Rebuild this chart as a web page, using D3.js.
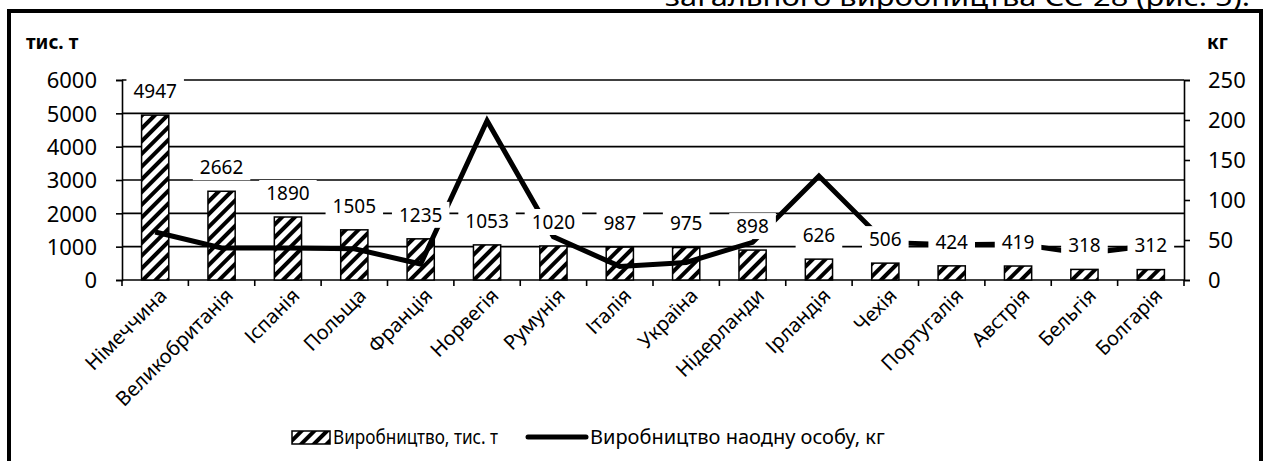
<!DOCTYPE html>
<html>
<head>
<meta charset="utf-8">
<script src="https://cdn.jsdelivr.net/npm/d3@7"></script>
<style>
  body { margin: 0; background: #fff; }
  text { font-family: "Noto Sans", "DejaVu Sans", sans-serif; fill: #000; }
</style>
</head>
<body>
<svg id="chart" width="1266" height="461"></svg>
<script>
var countries = ["Німеччина", "Великобританія", "Іспанія", "Польща", "Франція", "Норвегія",
                 "Румунія", "Італія", "Україна", "Нідерланди", "Ірландія", "Чехія",
                 "Португалія", "Австрія", "Бельгія", "Болгарія"];
var production = [4947, 2662, 1890, 1505, 1235, 1053, 1020, 987, 975, 898, 626, 506, 424, 419, 318, 312];
var perPerson = [60, 40, 40, 39, 20, 199, 54, 17, 22, 47, 130, 47, 44, 45, 33, 43];
var leftTicks = [0, 1000, 2000, 3000, 4000, 5000, 6000];
var rightTicks = [0, 50, 100, 150, 200, 250];

var svg = d3.select("#chart");

var plotL = 122, plotR = 1184, plotT = 80, plotB = 280;

var x = d3.scaleBand().domain(countries).range([plotL, plotR]).padding(0);
var yL = d3.scaleLinear().domain([0, 6000]).range([plotB, plotT]);
var yR = d3.scaleLinear().domain([0, 250]).range([plotB, plotT]);

// hatch pattern
var defs = svg.append("defs");
var pat = defs.append("pattern")
  .attr("id", "hatch")
  .attr("patternUnits", "userSpaceOnUse")
  .attr("width", 9).attr("height", 9)
  .attr("patternTransform", "rotate(45)");
pat.append("rect").attr("width", 9).attr("height", 9).attr("fill", "#fff");
pat.append("rect").attr("width", 4).attr("height", 9).attr("fill", "#000");

// frame + cut-off text above it
svg.append("text")
  .attr("x", 665).attr("y", 6)
  .attr("textLength", 585)
  .attr("lengthAdjust", "spacingAndGlyphs")
  .style("font-size", "25px")
  .text("загального виробництва  ЄС-28 (рис. 5).");
svg.append("rect")
  .attr("x", 9).attr("y", 11)
  .attr("width", 1252).attr("height", 470)
  .attr("fill", "none").attr("stroke", "#000").attr("stroke-width", 4);

// gridlines
svg.append("g")
  .selectAll("line")
  .data(leftTicks.slice(1))
  .enter()
  .append("line")
  .attr("x1", plotL).attr("x2", plotR)
  .attr("y1", function(d) { return yL(d); })
  .attr("y2", function(d) { return yL(d); })
  .attr("stroke", "#000").attr("stroke-width", 1.6);

// axes
var axL = svg.append("g")
  .attr("transform", "translate(" + plotL + ",0)")
  .call(d3.axisLeft(yL).tickValues(leftTicks).tickSize(6).tickPadding(19).tickFormat(d3.format("d")));
var axR = svg.append("g")
  .attr("transform", "translate(" + plotR + ",0)")
  .call(d3.axisRight(yR).tickValues(rightTicks).tickSize(6).tickPadding(18).tickFormat(d3.format("d")));
[axL, axR].forEach(function(a) {
  a.select(".domain").attr("stroke", "#000").attr("stroke-width", 1.6);
  a.selectAll(".tick line").attr("stroke", "#000").attr("stroke-width", 1.6);
  a.selectAll(".tick text").style("font-size", "22px").attr("dy", "0.36em")
    .style("font-family", "'Noto Sans', 'DejaVu Sans', sans-serif");
});

// bottom axis with ticks at category boundaries
var bx = svg.append("g");
bx.append("line")
  .attr("x1", plotL).attr("x2", plotR)
  .attr("y1", plotB).attr("y2", plotB)
  .attr("stroke", "#000").attr("stroke-width", 1.6);
var bounds = countries.map(function(c) { return x(c); }).concat([plotR]);
bx.selectAll("line.tk")
  .data(bounds)
  .enter()
  .append("line")
  .attr("class", "tk")
  .attr("x1", function(d) { return d; }).attr("x2", function(d) { return d; })
  .attr("y1", plotB).attr("y2", plotB + 6)
  .attr("stroke", "#000").attr("stroke-width", 1.6);

bx.selectAll("text")
  .data(countries)
  .enter()
  .append("text")
  .attr("transform", function(d) {
    return "translate(" + (x(d) + x.bandwidth() / 2 + 8) + "," + (plotB + 12) + ") rotate(-45)";
  })
  .attr("text-anchor", "end")
  .attr("dy", "0.35em")
  .style("font-size", "20px")
  .text(function(d) { return d; });

// bars
var bw = x.bandwidth() * 0.41;
svg.append("g")
  .selectAll("rect")
  .data(production)
  .enter()
  .append("rect")
  .attr("x", function(d, i) { return x(countries[i]) + (x.bandwidth() - bw) / 2; })
  .attr("y", function(d) { return yL(d); })
  .attr("width", bw)
  .attr("height", function(d) { return plotB - yL(d); })
  .attr("fill", "url(#hatch)")
  .attr("stroke", "#000").attr("stroke-width", 1.5);

// line
var line = d3.line()
  .x(function(d, i) { return x(countries[i]) + x.bandwidth() / 2; })
  .y(function(d) { return yR(d); });
svg.append("path")
  .datum(perPerson)
  .attr("d", line)
  .attr("fill", "none")
  .attr("stroke", "#000")
  .attr("stroke-width", 5)
  .attr("stroke-linejoin", "miter");

// data labels with white boxes
var labels = svg.append("g");
production.forEach(function(d, i) {
  var cx = x(countries[i]) + x.bandwidth() / 2;
  var cy = yL(d) - 24;
  var g = labels.append("g");
  var t = g.append("text")
    .attr("x", cx).attr("y", cy)
    .attr("text-anchor", "middle")
    .attr("dy", "0.36em")
    .style("font-size", "19px")
    .text(d);
  var w = t.node().getComputedTextLength();
  g.insert("rect", "text")
    .attr("x", cx - w / 2 - 7).attr("y", cy - 13)
    .attr("width", w + 14).attr("height", 26)
    .attr("fill", "#fff");
});

// axis titles
svg.append("text").attr("x", 26).attr("y", 49)
  .style("font-size", "19px").style("font-weight", "bold").text("тис. т");
svg.append("text").attr("x", 1207).attr("y", 49)
  .style("font-size", "19px").style("font-weight", "bold").text("кг");

// legend
var lg = svg.append("g").attr("transform", "translate(0,437)");
lg.append("rect")
  .attr("x", 292).attr("y", -6).attr("width", 38).attr("height", 13)
  .attr("fill", "url(#hatch)").attr("stroke", "#000").attr("stroke-width", 1.5);
lg.append("text").attr("x", 333).attr("y", 0).attr("dy", "0.36em")
  .attr("textLength", 165).attr("lengthAdjust", "spacingAndGlyphs")
  .style("font-size", "20px").text("Виробництво,  тис. т");
lg.append("line")
  .attr("x1", 528).attr("x2", 586).attr("y1", 0).attr("y2", 0)
  .attr("stroke", "#000").attr("stroke-width", 5).attr("stroke-linecap", "round");
lg.append("text").attr("x", 590).attr("y", 0).attr("dy", "0.36em")
  .style("font-size", "20px").text("Виробництво наодну особу, кг");
</script>
</body>
</html>
